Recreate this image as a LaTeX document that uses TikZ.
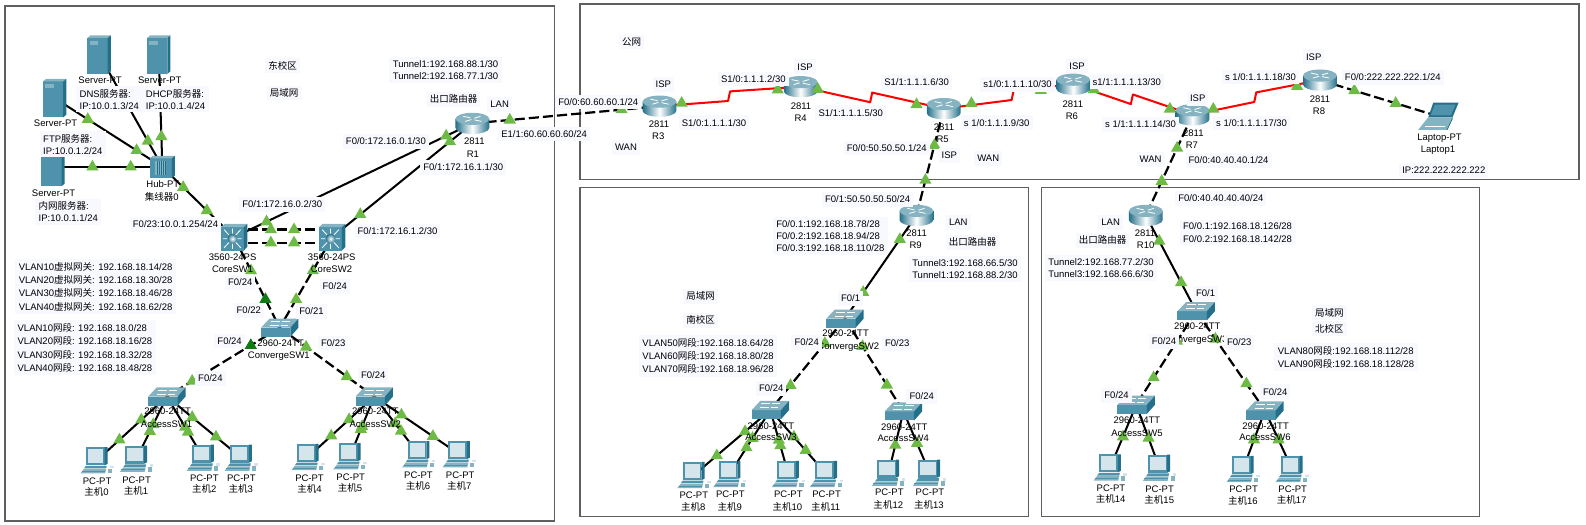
\documentclass[tikz,border=0pt]{standalone}
\usepackage{fontspec}
\setmainfont{Liberation Sans}
\newfontfamily\cjk{Noto Sans CJK SC}
\usetikzlibrary{positioning,calc,shapes.geometric}
\definecolor{lblbg}{HTML}{F8F8FF}
\definecolor{framegray}{HTML}{5F5F5F}
\definecolor{markgreen}{HTML}{6DBB45}
\definecolor{markdark}{HTML}{0F7A12}
\definecolor{devtop}{HTML}{86B3C2}
\definecolor{devfront}{HTML}{4E93AB}
\definecolor{devside}{HTML}{24708A}
\definecolor{devscreen}{HTML}{D4E5EC}
\pgfdeclarelayer{lines}
\pgfdeclarelayer{icons}
\pgfdeclarelayer{marks}
\pgfsetlayers{lines,icons,marks,main}
\tikzset{
  devpt/.style={inner sep=0pt,minimum size=0pt,outer sep=0pt},
  devtxt/.style={inner sep=0pt,text height=7pt,text depth=.5pt},
  lbl/.style={fill=lblbg,inner xsep=3pt,inner ysep=3.5pt,text height=7pt,text depth=.5pt},
  blk/.style={fill=lblbg,inner xsep=3.5pt,inner ysep=3pt,align=left},
  vblk/.style={blk,font=\fontsize{9.4}{13.2}\selectfont},
  tri/.style={regular polygon,regular polygon sides=3,fill=markgreen,inner sep=0pt,minimum size=14pt},
  frame/.style={draw=framegray,line width=1.2pt},
  eth/.style={line width=2pt},
  cross/.style={line width=2.2pt,dash pattern=on 10pt off 4pt},
  ser/.style={red,line width=2pt,line join=round}
}
\newcommand{\lnk}[4]{%
  \begin{pgfonlayer}{lines}\draw[#1] (#2) -- (#3);\end{pgfonlayer}
  \begin{pgfonlayer}{marks}\foreach \p [count=\k] in {#4} \path (#2) -- (#3) node[tri,pos=\p] (#2#3\k) {};\end{pgfonlayer}}
\newcommand{\serial}[4]{%
  \coordinate (#1#2a) at ($(#1)!#3!(#2)+(-2,4.5)$);
  \coordinate (#1#2b) at ($(#1)!#3!(#2)+(0,-5)$);
  \begin{pgfonlayer}{lines}\draw[ser] (#1) -- (#1#2a) -- (#1#2b) -- (#2);\end{pgfonlayer}
  \begin{pgfonlayer}{marks}\foreach \p [count=\k] in {#4} \path (#1) -- (#2) node[tri,pos=\p] (#1#2\k) {};\end{pgfonlayer}}
\newcommand{\routerdev}[2]{%
  \node[devpt] (#1) at (#2) {};
  \begin{pgfonlayer}{icons}\begin{scope}[shift={(#2)},y=1pt]
    \shade[left color=devside,right color=devside,middle color=white] (-16.7,4.5) -- (-16.7,-4.5) arc[start angle=180,end angle=360,x radius=16.7pt,y radius=6pt] -- (16.7,4.5) -- cycle;
    \fill[devtop] (0,4.5) circle[x radius=16.7pt,y radius=6pt];
    \draw[white,line width=.8pt] (-9,7) -- (-2,5.5) (9,2) -- (2,3.5) (-7,2) -- (-1,3.8) (8,7) -- (2,5.2);
  \end{scope}\end{pgfonlayer}}
\newcommand{\switchdev}[2]{%
  \node[devpt] (#1) at (#2) {};
  \begin{pgfonlayer}{icons}\begin{scope}[shift={(#2)},y=1pt]
    \fill[devfront] (-18.5,-9) rectangle (10.5,0);
    \fill[devtop] (-18.5,0) -- (-10,9) -- (18.5,9) -- (10.5,0) -- cycle;
    \fill[devside] (10.5,0) -- (18.5,9) -- (18.5,0) -- (10.5,-9) -- cycle;
    \draw[white,line width=.5pt] (-9,6.5) -- (0,6.5) (2,6.5) -- (10,6.5) (-10,2.5) -- (-1,2.5) (1,2.5) -- (8,2.5);
  \end{scope}\end{pgfonlayer}}
\newcommand{\coredev}[2]{%
  \node[devpt] (#1) at (#2) {};
  \begin{pgfonlayer}{icons}\begin{scope}[shift={(#2)},y=1pt]
    \fill[devfront] (-13,-13.2) rectangle (9.5,10);
    \fill[devtop] (-13,10) -- (-9.5,13.2) -- (13,13.2) -- (9.5,10) -- cycle;
    \fill[devside] (9.5,10) -- (13,13.2) -- (13,-9.5) -- (9.5,-13.2) -- cycle;
    \draw[white,line width=.8pt] (-10,-10.5) -- (6.5,7.5) (-10,7.5) -- (6.5,-10.5) (-11,-1.5) -- (7.5,-1.5) (-1.7,-11.5) -- (-1.7,8.5);
    \shade[inner color=white,outer color=devside] (-1.7,-1.5) circle[radius=5pt];
  \end{scope}\end{pgfonlayer}}
\newcommand{\hubdev}[2]{%
  \node[devpt] (#1) at (#2) {};
  \begin{pgfonlayer}{icons}\begin{scope}[shift={(#2)},y=1pt]
    \fill[devfront] (-12.5,-11) rectangle (9.5,8.5);
    \fill[devtop] (-12.5,8.5) -- (-9.5,11) -- (12.5,11) -- (9.5,8.5) -- cycle;
    \fill[devside] (9.5,8.5) -- (12.5,11) -- (12.5,-8.5) -- (9.5,-11) -- cycle;
    \fill[devtop] (-7,-8) rectangle (4,6);
    \foreach \sx in {-5.5,-3.5,...,3} \draw[devside,line width=.5pt] (\sx,-8) -- (\sx,6);
  \end{scope}\end{pgfonlayer}}
\newcommand{\serverdev}[2]{%
  \node[devpt] (#1) at (#2) {};
  \begin{pgfonlayer}{icons}\begin{scope}[shift={(#2)},y=1pt]
    \fill[devfront] (-11.5,-19) rectangle (8.5,16.5);
    \fill[devtop] (-11.5,16.5) -- (-8.5,19) -- (11.5,19) -- (8.5,16.5) -- cycle;
    \fill[devside] (8.5,16.5) -- (11.5,19) -- (11.5,-16.5) -- (8.5,-19) -- cycle;
    \fill[devtop] (-9.5,10) rectangle (-1,13.5);
  \end{scope}\end{pgfonlayer}}
\newcommand{\pcdev}[2]{%
  \node[devpt] (#1) at (#2) {};
  \begin{pgfonlayer}{icons}\begin{scope}[shift={(#2)},y=1pt]
    \fill[devfront] (-11,-5) rectangle (7.5,13);
    \fill[devscreen] (-9,-2.5) rectangle (6,11);
    \fill[devside] (7.5,13) -- (10.5,13) -- (10.5,-3.5) -- (7.5,-5) -- cycle;
    \fill[devfront] (-13,-8) -- (-11,-5.5) -- (9.5,-5.5) -- (9,-8) -- cycle;
    \fill[devtop] (-16.5,-13) -- (-13,-8.5) -- (9,-8.5) -- (8,-13) -- cycle;
    \fill[devfront] (-15,-11.2) rectangle (8,-10.4);
    \fill[devtop] (11,-13) rectangle (15,-8.5);
    \fill[devscreen] (13,-8) rectangle (16.5,-5.5);
  \end{scope}\end{pgfonlayer}}
\newcommand{\laptopdev}[2]{%
  \node[devpt] (#1) at (#2) {};
  \begin{pgfonlayer}{icons}\begin{scope}[shift={(#2)},y=1pt]
    \fill[devside] (-10,-1) -- (-5,13.5) -- (20,13.5) -- (14,-1) -- cycle;
    \fill[devfront] (-7.5,1) -- (-3.5,11.5) -- (17,11.5) -- (12.5,1) -- cycle;
    \fill[devtop] (-20,-13.5) -- (-10,-1) -- (14,-1) -- (8,-13.5) -- cycle;
    \fill[devside] (8,-13.5) -- (14,-1) -- (14,-3) -- (9,-13.5) -- cycle;
    \draw[white,line width=.4pt] (-13,-9.5) -- (7,-9.5);
  \end{scope}\end{pgfonlayer}}
\begin{document}
\begin{tikzpicture}[x=1pt,y=-1pt,font=\fontsize{9.4}{12}\selectfont]
\useasboundingbox (0,0) rectangle (1568,519);
\begin{pgfonlayer}{lines}
\draw[frame] (5,6) rectangle (548,515);
\draw[frame] (573.5,4) rectangle (1561,177.5);
\draw[frame] (573.5,185) rectangle (1017,511);
\draw[frame] (1029.5,185) rectangle (1463,511);
\end{pgfonlayer}
\serverdev{srvdns}{98,54}
\serverdev{srvdhcp}{157,54}
\serverdev{srvftp}{54,97}
\serverdev{srvlan}{52.5,165}
\hubdev{hub}{160.5,165}
\routerdev{rone}{467,122}
\routerdev{rthree}{652,105}
\routerdev{rfour}{791.6,85.7}
\routerdev{rfive}{933,107.4}
\routerdev{rsix}{1061,83.3}
\routerdev{rseven}{1179,113.5}
\routerdev{reight}{1305,79.2}
\routerdev{rnine}{906,213}
\routerdev{rten}{1132.8,213}
\laptopdev{laptop}{1422,115}
\coredev{coreone}{231.5,234.5}
\coredev{coretwo}{328.5,234.5}
\switchdev{convone}{276.5,324}
\switchdev{convtwo}{835.4,315}
\switchdev{convthree}{1182.6,307.7}
\switchdev{accone}{165,392}
\switchdev{acctwo}{370,392}
\switchdev{accthree}{761.6,405.4}
\switchdev{accfour}{893.2,406.7}
\switchdev{accfive}{1123.3,400.2}
\switchdev{accsix}{1250.6,405.8}
\foreach \id/\px/\py/\lx/\ly/\tx/\ty in {0/96/455/96/475.4/95.4/487,1/135/453.5/135/474.4/134.5/485.6,2/201/452.5/202/472.4/202/484,3/238.5/452.5/238.6/472.4/238/484,4/304.6/451.8/306/472.4/306/484,5/346/451/346.7/471.4/346/483,6/414/449/413.7/469.4/413.3/481,7/454/449/455/469.4/454/481,8/686/469.7/686/489.7/685.4/501.6,9/721.4/468.7/722/489/721.4/501,10/779.4/468.7/779.4/489/778.4/501,11/817/468.7/817.2/489/816.3/501,12/878.5/467.3/879.2/487/878.2/499,13/919/467.3/919.4/487/918.4/499,14/1097.6/462.1/1098.3/482.2/1098/493.7,15/1146.3/462.4/1146.4/483.2/1146.1/494.7,16/1228.9/463.7/1229.5/484.1/1228.8/495.7,17/1277.4/463.7/1278/483.2/1277/494.7}{
  \pcdev{pc\id}{\px,\py}
  \node[devtxt] (pctype\id) at (\lx,\ly) {PC-PT};
  \node[devtxt] (pcname\id) at (\tx,\ty) {{\cjk 主机}\id};
}
\lnk{eth}{srvdns}{hub}{.77}
\lnk{eth}{srvdhcp}{hub}{.73}
\lnk{eth}{srvftp}{hub}{.308,.761}
\lnk{eth}{srvlan}{hub}{.36,.71}
\lnk{eth}{hub}{coreone}{.29,.62}
\lnk{eth}{rone}{coreone}{.11,.864}
\lnk{eth}{rone}{coretwo}{.16,.8}
\coordinate (coreonea) at ([yshift=7.5pt]coreone.center);
\coordinate (coretwoa) at ([yshift=7.5pt]coretwo.center);
\coordinate (coreoneb) at ([yshift=-5.5pt]coreone.center);
\coordinate (coretwob) at ([yshift=-5.5pt]coretwo.center);
\lnk{cross}{coreonea}{coretwoa}{.374,.61}
\lnk{cross}{coreoneb}{coretwob}{.374,.61}
\lnk{cross}{coreone}{convone}{.37}
\lnk{cross}{coretwo}{convone}{.37,.687}
\lnk{cross}{convone}{accone}{.776}
\lnk{cross}{convone}{acctwo}{.28,.71}
\begin{pgfonlayer}{marks}
\path (coreone) -- (convone) node[tri,fill=markdark,pos=.687] (markcone) {};
\path (convone) -- (accone) node[tri,fill=markdark,pos=.256] (markctwo) {};
\end{pgfonlayer}
\lnk{eth}{accone}{pc0}{.367,.68}
\lnk{eth}{accone}{pc1}{.45,.56}
\lnk{eth}{accone}{pc2}{.5,.58}
\lnk{eth}{accone}{pc3}{.34,.66}
\lnk{eth}{acctwo}{pc4}{.38,.65}
\lnk{eth}{acctwo}{pc5}{.5,.55}
\lnk{eth}{acctwo}{pc6}{.47,.6}
\lnk{eth}{acctwo}{pc7}{.32,.69}
\lnk{cross}{rone}{rthree}{.2,.797}
\serial{rthree}{rfour}{.5}{.157,.837}
\serial{rfour}{rfive}{.5}{.12,.81}
\serial{rfive}{rsix}{.54}{.214,.75}
\serial{rsix}{rseven}{.5}{.173,.81}
\serial{rseven}{reight}{.5}{.163,.82}
\lnk{cross}{reight}{laptop}{.29,.64}
\lnk{cross}{rfive}{rnine}{.343,.67}
\lnk{eth}{rnine}{convtwo}{.232,.745}
\lnk{cross}{convtwo}{accthree}{.27,.73}
\lnk{cross}{convtwo}{accfour}{.3,.716}
\lnk{eth}{accthree}{pc8}{.33,.7}
\lnk{eth}{accthree}{pc9}{.44,.588}
\lnk{eth}{accthree}{pc10}{.47,.556}
\lnk{eth}{accthree}{pc11}{.42,.63}
\lnk{eth}{accfour}{pc12}{.55}
\lnk{eth}{accfour}{pc13}{.52}
\lnk{cross}{rseven}{rten}{.33,.66}
\lnk{eth}{rten}{convthree}{.267,.7}
\lnk{cross}{convthree}{accfive}{.32,.71}
\lnk{cross}{convthree}{accsix}{.28,.73}
\lnk{eth}{accfive}{pc14}{.51}
\lnk{eth}{accfive}{pc15}{.53}
\lnk{eth}{accsix}{pc16}{.5}
\lnk{eth}{accsix}{pc17}{.5}
\node[devtxt] (tdns) at (99,79.5) {Server-PT};
\node[devtxt] (tdhcp) at (158,79.5) {Server-PT};
\node[devtxt] (tftp) at (55,122) {Server-PT};
\node[devtxt] (tlan) at (53,191) {Server-PT};
\node[devtxt] (thuba) at (161,182.5) {Hub-PT};
\node[devtxt] (thubb) at (160,195) {{\cjk 集线器}0};
\node[devtxt] (tronea) at (469,140) {2811};
\node[devtxt] (troneb) at (467.5,152) {R1};
\node[devtxt] (tcoreonea) at (230,254) {3560-24PS};
\node[devtxt] (tcoreoneb) at (230,266) {CoreSW1};
\node[devtxt] (tcoretwoa) at (328,254) {3560-24PS};
\node[devtxt] (tcoretwob) at (327.7,266) {CoreSW2};
\node[devtxt] (tconvonea) at (277.4,339) {2960-24TT};
\node[devtxt] (tconvoneb) at (275.7,351) {ConvergeSW1};
\node[devtxt] (taccolea) at (165.7,407) {2960-24TT};
\node[devtxt] (taccoleb) at (164.7,419) {AccessSW1};
\node[devtxt] (tacctwoa) at (371,407) {2960-24TT};
\node[devtxt] (tacctwob) at (371,419) {AccessSW2};
\node[devtxt] (trthreea) at (651.5,122.4) {2811};
\node[devtxt] (trthreeb) at (650.8,134.3) {R3};
\node[devtxt] (trfoura) at (791.9,104.6) {2811};
\node[devtxt] (trfourb) at (791.6,116.5) {R4};
\node[devtxt] (trfivea) at (933.3,125.4) {2811};
\node[devtxt] (trfiveb) at (932,137.6) {R5};
\node[devtxt] (trsixa) at (1060.7,102.6) {2811};
\node[devtxt] (trsixb) at (1059.7,114.5) {R6};
\node[devtxt] (trsevena) at (1179.8,131.4) {2811};
\node[devtxt] (trsevenb) at (1178.4,143.6) {R7};
\node[devtxt] (treighta) at (1305,97.7) {2811};
\node[devtxt] (treightb) at (1304,109.6) {R8};
\node[devtxt] (tlapa) at (1423.2,135.3) {Laptop-PT};
\node[devtxt] (tlapb) at (1421.6,147.5) {Laptop1};
\node[devtxt] (trninea) at (906.2,230.7) {2811};
\node[devtxt] (trnineb) at (905.2,242.6) {R9};
\node[devtxt] (tconvtwoa) at (836,329.6) {2960-24TT};
\node[devtxt] (tconvtwob) at (838.7,342) {ConvergeSW2};
\node[devtxt] (taccthreea) at (762.2,420.9) {2960-24TT};
\node[devtxt] (taccthreeb) at (762.2,432.7) {AccessSW3};
\node[devtxt] (taccfoura) at (894,421.9) {2960-24TT};
\node[devtxt] (taccfourb) at (893,433.7) {AccessSW4};
\node[devtxt] (trtena) at (1132,230.7) {2811};
\node[devtxt] (trtenb) at (1132.6,242.9) {R10};
\node[devtxt] (tconvthreea) at (1183.7,323) {2960-24TT};
\node[devtxt] (tconvthreeb) at (1183,335.2) {ConvergeSW3};
\node[devtxt] (taccfivea) at (1124,415.9) {2960-24TT};
\node[devtxt] (taccfiveb) at (1124,427.8) {AccessSW5};
\node[devtxt] (taccsixa) at (1251.2,420.9) {2960-24TT};
\node[devtxt] (taccsixb) at (1250.6,432.7) {AccessSW6};
\node[blk] (lftp) at (72,142.5) {FTP{\cjk 服务器}:\\IP:10.0.1.2/24};
\node[blk] (ldns) at (108,98) {DNS{\cjk 服务器}:\\IP:10.0.1.3/24};
\node[blk] (ldhcp) at (173.5,98) {DHCP{\cjk 服务器}:\\IP:10.0.1.4/24};
\node[blk] (llan) at (67.5,209.5) {{\cjk 内网服务器}:\\IP:10.0.1.1/24};
\node[lbl] (leastcampus) at (279.5,65) {\cjk 东校区};
\node[lbl] (leastlan) at (281,92) {\cjk 局域网};
\node[blk] (ltuna) at (440.5,69.2) {Tunnel1:192.168.88.1/30\\Tunnel2:192.168.77.1/30};
\node[lbl] (lexita) at (448.5,98.5) {\cjk 出口路由器};
\node[lbl] (llana) at (494,103.3) {LAN};
\node[lbl] (lfzero) at (381.5,140) {F0/0:172.16.0.1/30};
\node[lbl] (lfoneb) at (458,165.7) {F0/1:172.16.1.1/30};
\node[lbl] (lewan) at (538,132.5) {E1/1:60.60.60.60/24};
\node[lbl] (lfonea) at (279,202) {F0/1:172.16.0.2/30};
\node[lbl] (lftwenty) at (173.5,222) {F0/23:10.0.1.254/24};
\node[lbl] (lfonec) at (393,228.4) {F0/1:172.16.1.2/30};
\node[vblk] (lgw) at (94.5,283.3) {VLAN10{\cjk 虚拟网关}: 192.168.18.14/28\\VLAN20{\cjk 虚拟网关}: 192.168.18.30/28\\VLAN30{\cjk 虚拟网关}: 192.168.18.46/28\\VLAN40{\cjk 虚拟网关}: 192.168.18.62/28};
\node[vblk] (lseg) at (84,344) {VLAN10{\cjk 网段}: 192.168.18.0/28\\VLAN20{\cjk 网段}: 192.168.18.16/28\\VLAN30{\cjk 网段}: 192.168.18.32/28\\VLAN40{\cjk 网段}: 192.168.18.48/28};
\node[lbl] (lfa) at (237.5,279) {F0/24};
\node[lbl] (lfb) at (331,283) {F0/24};
\node[lbl] (lfc) at (246,307) {F0/22};
\node[lbl] (lfd) at (308,307.7) {F0/21};
\node[lbl] (lfe) at (227,337) {F0/24};
\node[lbl] (lff) at (329.4,339) {F0/23};
\node[lbl] (lfg) at (208,374) {F0/24};
\node[lbl] (lfh) at (369,371.4) {F0/24};
\node[lbl] (lpublic) at (624.5,41.6) {\cjk 公网};
\node[lbl] (lispa) at (655.8,83.5) {ISP};
\node[lbl] (lrthreef) at (591.5,101) {F0/0:60.60.60.1/24};
\node[lbl] (lrthrees) at (705.9,121.4) {S1/0:1.1.1.1/30};
\node[lbl] (lwana) at (618.9,146) {WAN};
\node[lbl] (lrfoura) at (744.8,78) {S1/0:1.1.1.2/30};
\node[lbl] (lispb) at (795.9,66) {ISP};
\node[lbl] (lrfourb) at (841.1,111.5) {S1/1:1.1.1.5/30};
\node[lbl] (lrfivea) at (906.2,81.5) {S1/1:1.1.1.6/30};
\node[lbl] (lrsixa) at (1006,83.5) {s1/0:1.1.1.10/30};
\node[lbl] (lrfiveb) at (985.4,121.4) {s 1/0:1.1.1.9/30};
\node[lbl] (lrfivef) at (876.6,146.2) {F0/0:50.50.50.1/24};
\node[lbl] (lispc) at (938.6,153.8) {ISP};
\node[lbl] (lwanb) at (977,156.8) {WAN};
\node[lbl] (lispd) at (1064.9,65) {ISP};
\node[lbl] (lrsixb) at (1114,80.9) {s1/1:1.1.1.13/30};
\node[lbl] (lispe) at (1184.1,97.4) {ISP};
\node[lbl] (lrsevena) at (1127.6,122.8) {s 1/1:1.1.1.14/30};
\node[lbl] (lrsevenb) at (1237.4,121.5) {s 1/0:1.1.1.17/30};
\node[lbl] (lreighta) at (1246.2,76) {s 1/0:1.1.1.18/30};
\node[lbl] (lispf) at (1298.8,56.1) {ISP};
\node[lbl] (lreightf) at (1377,76.6) {F0/0:222.222.222.1/24};
\node[lbl] (lapip) at (1427.4,168.6) {IP:222.222.222.222};
\node[lbl] (lwanc) at (1137.5,157.8) {WAN};
\node[lbl] (lrsevenf) at (1214.6,158.7) {F0/0:40.40.40.1/24};
\node[lbl] (lrninef) at (857.8,197.1) {F0/1:50.50.50.50/24};
\node[blk] (lrninesub) at (821,233.2) {F0/0.1:192.168.18.78/28\\F0/0.2:192.168.18.94/28\\F0/0.3:192.168.18.110/28};
\node[lbl] (llanb) at (947.4,219.9) {LAN};
\node[lbl] (lexitb) at (961.6,239.6) {\cjk 出口路由器};
\node[blk] (ltunb) at (954,266) {Tunnel3:192.168.66.5/30\\Tunnel1:192.168.88.2/30};
\node[lbl] (lsouthlan) at (692.7,293.3) {\cjk 局域网};
\node[lbl] (lsouth) at (692.7,317) {\cjk 南校区};
\node[vblk] (lsouthseg) at (700,351.8) {VLAN50{\cjk 网段}:192.168.18.64/28\\VLAN60{\cjk 网段}:192.168.18.80/28\\VLAN70{\cjk 网段}:192.168.18.96/28};
\node[lbl] (lfi) at (841,295) {F0/1};
\node[lbl] (lfj) at (797.5,338.8) {F0/24};
\node[lbl] (lfk) at (887.1,339.5) {F0/23};
\node[lbl] (lfl) at (762.5,384) {F0/24};
\node[lbl] (lfm) at (911.2,392.2) {F0/24};
\node[lbl] (lrtenf) at (1207,196.1) {F0/0:40.40.40.40/24};
\node[blk] (lrtensub) at (1223.5,229.9) {F0/0.1:192.168.18.126/28\\F0/0.2:192.168.18.142/28};
\node[lbl] (llanc) at (1098,219.9) {LAN};
\node[lbl] (lexitc) at (1090.1,237.6) {\cjk 出口路由器};
\node[blk] (ltunc) at (1088.5,264.9) {Tunnel2:192.168.77.2/30\\Tunnel3:192.168.66.6/30};
\node[lbl] (lfn) at (1191.9,290) {F0/1};
\node[lbl] (lfo) at (1150.7,337.5) {F0/24};
\node[lbl] (lfp) at (1225.2,338.5) {F0/23};
\node[lbl] (lnorthlan) at (1314.2,309.2) {\cjk 局域网};
\node[lbl] (lnorth) at (1314.2,325) {\cjk 北校区};
\node[vblk] (lnorthseg) at (1330.8,353.2) {VLAN80{\cjk 网段}:192.168.18.112/28\\VLAN90{\cjk 网段}:192.168.18.128/28};
\node[lbl] (lfq) at (1103.9,391.2) {F0/24};
\node[lbl] (lfr) at (1260.8,387.3) {F0/24};
\end{tikzpicture}
\end{document}
